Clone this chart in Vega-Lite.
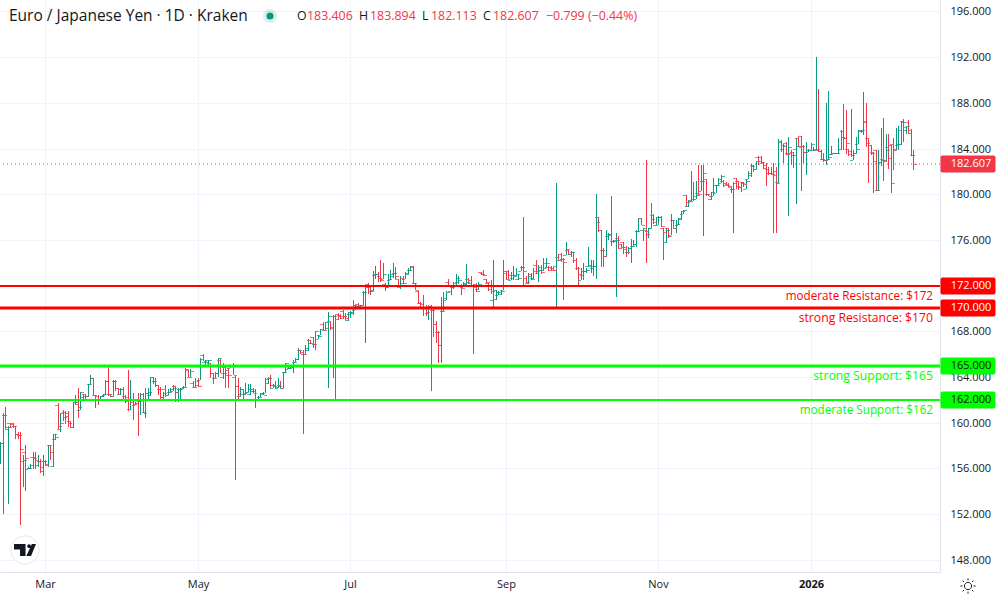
{"$schema":"https://vega.github.io/schema/vega-lite/v6.json","width":940,"height":572,"autosize":{"type":"none"},"padding":{"left":0,"top":0,"right":60,"bottom":28},"background":"#ffffff","config":{"view":{"stroke":null},"font":"Open Sans","text":{"font":"Open Sans"}},
"data":{"values":[
{"d":"2025-02-11","o":158.2,"h":158.3,"l":156.4,"c":158.2},{"d":"2025-02-12","o":158.2,"h":160.8,"l":152.0,"c":160.7},{"d":"2025-02-13","o":160.7,"h":161.4,"l":159.4,"c":159.6},{"d":"2025-02-14","o":159.4,"h":159.7,"l":152.9,"c":159.6},{"d":"2025-02-15","o":160.0,"h":160.0,"l":159.5,"c":159.9},{"d":"2025-02-16","o":160.0,"h":160.0,"l":159.5,"c":159.7},{"d":"2025-02-17","o":159.7,"h":159.7,"l":158.6,"c":159.0},{"d":"2025-02-18","o":159.0,"h":159.2,"l":158.6,"c":158.9},{"d":"2025-02-19","o":158.9,"h":159.2,"l":151.0,"c":157.7},{"d":"2025-02-20","o":156.6,"h":157.2,"l":154.4,"c":156.7},{"d":"2025-02-21","o":157.4,"h":158.0,"l":154.0,"c":156.9},{"d":"2025-02-22","o":155.9,"h":156.1,"l":155.9,"c":156.0},{"d":"2025-02-23","o":156.0,"h":156.4,"l":155.9,"c":156.3},{"d":"2025-02-24","o":157.0,"h":157.4,"l":155.9,"c":156.9},{"d":"2025-02-25","o":157.0,"h":157.4,"l":155.9,"c":156.7},{"d":"2025-02-26","o":156.3,"h":157.2,"l":156.1,"c":156.6},{"d":"2025-02-27","o":156.6,"h":156.8,"l":155.6,"c":156.1},{"d":"2025-02-28","o":155.8,"h":157.2,"l":155.3,"c":156.6},
{"d":"2025-03-01","o":156.6,"h":156.7,"l":156.3,"c":156.4},{"d":"2025-03-02","o":156.3,"h":158.0,"l":156.1,"c":158.0},{"d":"2025-03-03","o":158.0,"h":158.0,"l":156.7,"c":157.4},{"d":"2025-03-04","o":156.2,"h":159.0,"l":156.1,"c":159.0},{"d":"2025-03-05","o":158.6,"h":159.0,"l":158.5,"c":158.7},{"d":"2025-03-06","o":161.5,"h":161.7,"l":159.4,"c":159.7},{"d":"2025-03-07","o":159.4,"h":160.8,"l":159.2,"c":160.0},{"d":"2025-03-08","o":160.8,"h":161.1,"l":160.1,"c":160.5},{"d":"2025-03-09","o":160.9,"h":161.0,"l":159.9,"c":160.6},{"d":"2025-03-10","o":160.8,"h":161.0,"l":159.6,"c":160.0},{"d":"2025-03-11","o":160.1,"h":160.1,"l":159.5,"c":159.6},{"d":"2025-03-12","o":159.6,"h":161.8,"l":159.5,"c":161.8},{"d":"2025-03-13","o":162.0,"h":162.4,"l":161.5,"c":161.6},{"d":"2025-03-14","o":161.8,"h":163.0,"l":160.4,"c":161.4},{"d":"2025-03-15","o":161.1,"h":162.7,"l":161.1,"c":162.7},{"d":"2025-03-16","o":162.2,"h":162.5,"l":162.1,"c":162.3},{"d":"2025-03-17","o":162.5,"h":162.5,"l":162.1,"c":162.3},{"d":"2025-03-18","o":162.3,"h":163.4,"l":162.2,"c":163.4},{"d":"2025-03-19","o":163.4,"h":164.2,"l":163.4,"c":163.9},{"d":"2025-03-20","o":163.9,"h":163.9,"l":162.4,"c":162.4},{"d":"2025-03-21","o":162.4,"h":162.4,"l":161.3,"c":162.0},{"d":"2025-03-22","o":162.3,"h":162.4,"l":161.5,"c":162.0},{"d":"2025-03-23","o":162.0,"h":162.3,"l":161.9,"c":162.3},{"d":"2025-03-24","o":162.3,"h":162.5,"l":162.2,"c":162.5},{"d":"2025-03-25","o":162.4,"h":163.7,"l":162.4,"c":163.6},{"d":"2025-03-26","o":163.6,"h":165.05,"l":162.3,"c":162.5},{"d":"2025-03-27","o":162.5,"h":162.5,"l":162.2,"c":162.3},{"d":"2025-03-28","o":162.3,"h":163.7,"l":162.3,"c":163.6},{"d":"2025-03-29","o":163.6,"h":163.7,"l":162.8,"c":163.0},{"d":"2025-03-30","o":163.0,"h":163.0,"l":162.4,"c":162.9},{"d":"2025-03-31","o":162.5,"h":163.0,"l":162.4,"c":162.9},
{"d":"2025-04-01","o":162.9,"h":163.1,"l":162.0,"c":162.0},{"d":"2025-04-02","o":162.3,"h":162.4,"l":161.7,"c":161.9},{"d":"2025-04-03","o":162.2,"h":164.6,"l":161.05,"c":162.0},{"d":"2025-04-04","o":161.2,"h":163.7,"l":161.1,"c":162.0},{"d":"2025-04-05","o":161.8,"h":162.6,"l":160.2,"c":161.6},{"d":"2025-04-06","o":161.5,"h":161.8,"l":161.5,"c":161.7},{"d":"2025-04-07","o":162.0,"h":162.6,"l":158.8,"c":161.9},{"d":"2025-04-08","o":161.9,"h":162.6,"l":160.7,"c":162.5},{"d":"2025-04-09","o":162.5,"h":162.6,"l":160.8,"c":160.8},{"d":"2025-04-10","o":160.9,"h":163.0,"l":160.4,"c":162.6},{"d":"2025-04-11","o":162.6,"h":163.0,"l":162.1,"c":162.7},{"d":"2025-04-12","o":162.4,"h":164.0,"l":162.3,"c":164.0},{"d":"2025-04-13","o":164.0,"h":164.0,"l":163.4,"c":163.6},{"d":"2025-04-14","o":163.6,"h":163.9,"l":163.1,"c":163.3},{"d":"2025-04-15","o":163.3,"h":163.3,"l":162.4,"c":162.9},{"d":"2025-04-16","o":162.9,"h":163.1,"l":162.0,"c":162.2},{"d":"2025-04-17","o":162.2,"h":162.7,"l":162.1,"c":162.6},{"d":"2025-04-18","o":162.9,"h":163.3,"l":162.2,"c":162.4},{"d":"2025-04-19","o":162.4,"h":162.9,"l":162.4,"c":162.7},{"d":"2025-04-20","o":162.7,"h":163.0,"l":162.7,"c":162.9},{"d":"2025-04-21","o":162.8,"h":163.3,"l":162.8,"c":163.0},{"d":"2025-04-22","o":163.2,"h":163.2,"l":161.8,"c":162.7},{"d":"2025-04-23","o":162.7,"h":163.0,"l":161.8,"c":162.9},{"d":"2025-04-24","o":162.9,"h":163.0,"l":162.0,"c":163.0},{"d":"2025-04-25","o":162.9,"h":163.2,"l":162.9,"c":163.1},{"d":"2025-04-26","o":163.1,"h":164.8,"l":163.1,"c":164.7},{"d":"2025-04-27","o":164.6,"h":164.6,"l":164.0,"c":164.0},{"d":"2025-04-28","o":164.0,"h":164.7,"l":164.0,"c":164.5},{"d":"2025-04-29","o":163.5,"h":163.6,"l":163.1,"c":163.1},{"d":"2025-04-30","o":163.1,"h":163.9,"l":163.1,"c":163.3},
{"d":"2025-05-01","o":163.6,"h":163.9,"l":163.1,"c":163.2},{"d":"2025-05-02","o":163.7,"h":165.7,"l":163.7,"c":165.6},{"d":"2025-05-03","o":165.9,"h":165.98,"l":165.4,"c":165.4},{"d":"2025-05-04","o":165.3,"h":165.5,"l":165.0,"c":165.5},{"d":"2025-05-05","o":165.3,"h":165.5,"l":165.0,"c":165.5},{"d":"2025-05-06","o":165.2,"h":165.2,"l":163.9,"c":164.3},{"d":"2025-05-07","o":164.3,"h":164.3,"l":163.4,"c":163.9},{"d":"2025-05-08","o":163.9,"h":164.4,"l":163.9,"c":164.3},{"d":"2025-05-09","o":164.3,"h":165.7,"l":164.0,"c":165.7},{"d":"2025-05-10","o":165.5,"h":165.6,"l":164.3,"c":164.3},{"d":"2025-05-11","o":164.0,"h":165.2,"l":163.8,"c":164.3},{"d":"2025-05-12","o":164.9,"h":164.9,"l":163.0,"c":164.2},{"d":"2025-05-13","o":164.6,"h":164.8,"l":163.0,"c":164.2},{"d":"2025-05-14","o":164.8,"h":165.0,"l":164.8,"c":165.0},{"d":"2025-05-15","o":165.0,"h":165.2,"l":164.2,"c":164.2},{"d":"2025-05-16","o":164.0,"h":164.1,"l":155.0,"c":163.2},{"d":"2025-05-17","o":163.2,"h":163.9,"l":162.1,"c":162.5},{"d":"2025-05-18","o":162.3,"h":163.1,"l":162.2,"c":162.9},{"d":"2025-05-19","o":162.9,"h":162.9,"l":162.0,"c":162.6},{"d":"2025-05-20","o":162.5,"h":163.5,"l":162.4,"c":162.7},{"d":"2025-05-21","o":162.7,"h":163.4,"l":162.7,"c":162.9},{"d":"2025-05-22","o":162.5,"h":163.4,"l":162.4,"c":162.8},{"d":"2025-05-23","o":162.9,"h":163.0,"l":162.6,"c":162.6},{"d":"2025-05-24","o":162.8,"h":162.9,"l":161.3,"c":162.0},{"d":"2025-05-25","o":162.0,"h":162.3,"l":161.9,"c":162.2},{"d":"2025-05-26","o":162.2,"h":162.6,"l":162.2,"c":162.5},{"d":"2025-05-27","o":162.6,"h":162.7,"l":162.4,"c":162.4},{"d":"2025-05-28","o":162.6,"h":163.9,"l":162.6,"c":163.8},{"d":"2025-05-29","o":163.5,"h":164.0,"l":163.4,"c":163.9},{"d":"2025-05-30","o":163.9,"h":164.2,"l":163.0,"c":163.3},{"d":"2025-05-31","o":163.0,"h":163.4,"l":163.0,"c":163.2},
{"d":"2025-06-01","o":163.3,"h":163.6,"l":162.9,"c":163.1},{"d":"2025-06-02","o":163.0,"h":163.9,"l":163.0,"c":163.2},{"d":"2025-06-03","o":163.3,"h":163.6,"l":163.0,"c":163.0},{"d":"2025-06-04","o":163.0,"h":164.4,"l":163.0,"c":164.4},{"d":"2025-06-05","o":164.4,"h":165.2,"l":164.3,"c":165.2},{"d":"2025-06-06","o":164.7,"h":165.0,"l":164.7,"c":164.8},{"d":"2025-06-07","o":164.8,"h":165.0,"l":164.7,"c":164.9},{"d":"2025-06-08","o":164.9,"h":165.5,"l":164.3,"c":165.3},{"d":"2025-06-09","o":165.3,"h":165.7,"l":165.3,"c":165.6},{"d":"2025-06-10","o":165.6,"h":166.5,"l":165.5,"c":166.4},{"d":"2025-06-11","o":166.4,"h":166.4,"l":166.0,"c":166.0},{"d":"2025-06-12","o":166.2,"h":166.4,"l":159.0,"c":166.0},{"d":"2025-06-13","o":166.0,"h":166.8,"l":166.0,"c":166.5},{"d":"2025-06-14","o":166.4,"h":167.3,"l":166.3,"c":167.0},{"d":"2025-06-15","o":167.2,"h":167.2,"l":166.9,"c":167.0},{"d":"2025-06-16","o":167.5,"h":167.5,"l":166.5,"c":166.9},{"d":"2025-06-17","o":166.9,"h":168.0,"l":166.4,"c":168.0},{"d":"2025-06-18","o":167.3,"h":167.7,"l":167.3,"c":167.6},{"d":"2025-06-19","o":167.7,"h":168.2,"l":167.7,"c":168.2},{"d":"2025-06-20","o":168.6,"h":168.8,"l":168.1,"c":168.1},{"d":"2025-06-21","o":168.1,"h":168.8,"l":168.1,"c":168.8},{"d":"2025-06-22","o":168.3,"h":169.7,"l":163.0,"c":169.3},{"d":"2025-06-23","o":168.9,"h":168.9,"l":168.1,"c":168.3},{"d":"2025-06-24","o":168.4,"h":169.4,"l":163.9,"c":169.3},{"d":"2025-06-25","o":169.3,"h":169.4,"l":162.0,"c":169.1},{"d":"2025-06-26","o":169.5,"h":169.6,"l":169.0,"c":169.3},{"d":"2025-06-27","o":169.4,"h":169.5,"l":169.1,"c":169.2},{"d":"2025-06-28","o":169.8,"h":169.9,"l":169.1,"c":169.3},{"d":"2025-06-29","o":169.3,"h":169.6,"l":169.0,"c":169.2},{"d":"2025-06-30","o":169.0,"h":169.7,"l":168.9,"c":169.7},
{"d":"2025-07-01","o":169.5,"h":169.8,"l":169.2,"c":169.7},{"d":"2025-07-02","o":169.6,"h":170.7,"l":169.4,"c":170.3},{"d":"2025-07-03","o":169.9,"h":170.3,"l":169.9,"c":170.2},{"d":"2025-07-04","o":170.4,"h":170.5,"l":170.1,"c":170.3},{"d":"2025-07-05","o":170.2,"h":170.3,"l":170.1,"c":170.3},{"d":"2025-07-06","o":170.3,"h":171.5,"l":170.3,"c":171.4},{"d":"2025-07-07","o":171.4,"h":172.05,"l":167.0,"c":171.9},{"d":"2025-07-08","o":172.1,"h":172.2,"l":171.3,"c":171.5},{"d":"2025-07-09","o":171.9,"h":171.9,"l":171.2,"c":171.5},{"d":"2025-07-10","o":171.6,"h":173.3,"l":171.5,"c":173.0},{"d":"2025-07-11","o":172.9,"h":173.7,"l":172.6,"c":173.0},{"d":"2025-07-12","o":173.0,"h":173.2,"l":172.3,"c":172.7},{"d":"2025-07-13","o":172.8,"h":174.2,"l":172.3,"c":172.5},{"d":"2025-07-14","o":172.6,"h":174.0,"l":172.6,"c":173.0},{"d":"2025-07-15","o":172.1,"h":172.2,"l":171.5,"c":171.9},{"d":"2025-07-16","o":171.9,"h":173.0,"l":171.9,"c":172.6},{"d":"2025-07-17","o":172.5,"h":173.4,"l":172.5,"c":173.0},{"d":"2025-07-18","o":172.8,"h":174.0,"l":172.7,"c":173.1},{"d":"2025-07-19","o":173.1,"h":173.6,"l":172.6,"c":172.8},{"d":"2025-07-20","o":172.6,"h":172.6,"l":171.9,"c":172.0},{"d":"2025-07-21","o":171.9,"h":172.8,"l":171.7,"c":172.2},{"d":"2025-07-22","o":172.7,"h":172.8,"l":172.1,"c":172.2},{"d":"2025-07-23","o":172.6,"h":173.2,"l":172.6,"c":173.0},{"d":"2025-07-24","o":173.1,"h":173.5,"l":173.0,"c":173.4},{"d":"2025-07-25","o":173.4,"h":173.7,"l":173.3,"c":173.6},{"d":"2025-07-26","o":173.7,"h":173.7,"l":172.1,"c":172.2},{"d":"2025-07-27","o":172.2,"h":172.2,"l":171.6,"c":171.6},{"d":"2025-07-28","o":171.5,"h":171.5,"l":170.4,"c":170.5},{"d":"2025-07-29","o":170.5,"h":170.6,"l":170.0,"c":170.1},{"d":"2025-07-30","o":170.4,"h":171.2,"l":169.3,"c":170.0},{"d":"2025-07-31","o":170.0,"h":170.3,"l":169.3,"c":169.7},
{"d":"2025-08-01","o":169.6,"h":170.3,"l":169.0,"c":170.2},{"d":"2025-08-02","o":170.2,"h":170.3,"l":162.8,"c":169.9},{"d":"2025-08-03","o":169.9,"h":170.0,"l":167.5,"c":168.6},{"d":"2025-08-04","o":168.6,"h":168.9,"l":167.0,"c":167.9},{"d":"2025-08-05","o":167.9,"h":168.0,"l":165.2,"c":166.8},{"d":"2025-08-06","o":166.8,"h":171.0,"l":165.2,"c":169.8},{"d":"2025-08-07","o":169.8,"h":171.4,"l":169.8,"c":170.9},{"d":"2025-08-08","o":170.7,"h":171.5,"l":170.7,"c":171.4},{"d":"2025-08-09","o":172.3,"h":172.6,"l":171.9,"c":172.0},{"d":"2025-08-10","o":171.5,"h":172.0,"l":171.2,"c":171.9},{"d":"2025-08-11","o":171.9,"h":172.3,"l":171.7,"c":172.2},{"d":"2025-08-12","o":172.0,"h":173.0,"l":171.9,"c":172.7},{"d":"2025-08-13","o":172.3,"h":172.8,"l":172.1,"c":172.5},{"d":"2025-08-14","o":172.0,"h":172.1,"l":171.2,"c":171.8},{"d":"2025-08-15","o":171.9,"h":172.3,"l":171.9,"c":172.2},{"d":"2025-08-16","o":172.1,"h":173.9,"l":172.0,"c":172.3},{"d":"2025-08-17","o":172.6,"h":172.7,"l":172.1,"c":172.2},{"d":"2025-08-18","o":172.5,"h":172.8,"l":171.9,"c":172.0},{"d":"2025-08-19","o":172.0,"h":172.1,"l":166.0,"c":171.9},{"d":"2025-08-20","o":172.1,"h":172.2,"l":171.4,"c":171.5},{"d":"2025-08-21","o":171.7,"h":172.3,"l":171.6,"c":172.1},{"d":"2025-08-22","o":173.2,"h":173.2,"l":172.9,"c":173.0},{"d":"2025-08-23","o":173.1,"h":173.4,"l":172.8,"c":172.9},{"d":"2025-08-24","o":172.6,"h":172.6,"l":172.2,"c":172.3},{"d":"2025-08-25","o":172.2,"h":172.2,"l":171.5,"c":171.7},{"d":"2025-08-26","o":172.0,"h":172.5,"l":171.3,"c":171.5},{"d":"2025-08-27","o":170.7,"h":174.2,"l":170.1,"c":171.6},{"d":"2025-08-28","o":170.8,"h":171.6,"l":170.7,"c":171.4},{"d":"2025-08-29","o":171.2,"h":171.5,"l":171.2,"c":171.4},{"d":"2025-08-30","o":171.3,"h":171.6,"l":171.2,"c":171.5},{"d":"2025-08-31","o":171.6,"h":174.2,"l":171.6,"c":173.3},
{"d":"2025-09-01","o":173.1,"h":173.2,"l":172.5,"c":172.6},{"d":"2025-09-02","o":173.3,"h":173.4,"l":172.6,"c":172.9},{"d":"2025-09-03","o":172.5,"h":173.2,"l":172.5,"c":172.9},{"d":"2025-09-04","o":172.7,"h":173.7,"l":172.5,"c":172.8},{"d":"2025-09-05","o":172.9,"h":173.5,"l":172.8,"c":173.0},{"d":"2025-09-06","o":172.6,"h":172.9,"l":172.5,"c":172.7},{"d":"2025-09-07","o":173.3,"h":173.7,"l":173.3,"c":173.6},{"d":"2025-09-08","o":173.6,"h":178.0,"l":172.0,"c":173.3},{"d":"2025-09-09","o":172.7,"h":172.8,"l":172.2,"c":172.3},{"d":"2025-09-10","o":172.2,"h":173.1,"l":172.1,"c":172.8},{"d":"2025-09-11","o":173.0,"h":173.1,"l":172.5,"c":172.6},{"d":"2025-09-12","o":172.7,"h":173.5,"l":172.6,"c":173.3},{"d":"2025-09-13","o":173.8,"h":174.2,"l":173.0,"c":173.3},{"d":"2025-09-14","o":173.1,"h":173.8,"l":172.3,"c":173.4},{"d":"2025-09-15","o":173.6,"h":173.8,"l":173.0,"c":173.2},{"d":"2025-09-16","o":173.4,"h":174.4,"l":173.3,"c":174.0},{"d":"2025-09-17","o":173.5,"h":174.4,"l":173.5,"c":174.0},{"d":"2025-09-18","o":173.6,"h":173.7,"l":173.3,"c":173.4},{"d":"2025-09-19","o":173.6,"h":173.7,"l":173.3,"c":173.4},{"d":"2025-09-20","o":173.5,"h":173.6,"l":173.4,"c":173.4},{"d":"2025-09-21","o":173.7,"h":180.95,"l":170.1,"c":174.2},{"d":"2025-09-22","o":174.5,"h":174.8,"l":174.2,"c":174.2},{"d":"2025-09-23","o":174.8,"h":174.85,"l":174.1,"c":174.3},{"d":"2025-09-24","o":174.3,"h":174.4,"l":170.7,"c":174.1},{"d":"2025-09-25","o":174.7,"h":175.85,"l":174.7,"c":175.2},{"d":"2025-09-26","o":175.1,"h":175.1,"l":174.7,"c":174.8},{"d":"2025-09-27","o":174.8,"h":175.0,"l":174.5,"c":174.9},{"d":"2025-09-28","o":174.9,"h":174.9,"l":173.95,"c":174.2},{"d":"2025-09-29","o":174.2,"h":174.4,"l":173.4,"c":173.5},{"d":"2025-09-30","o":173.5,"h":173.65,"l":172.05,"c":173.0},
{"d":"2025-10-01","o":172.5,"h":173.5,"l":172.5,"c":173.3},{"d":"2025-10-02","o":172.9,"h":173.95,"l":172.5,"c":173.3},{"d":"2025-10-03","o":173.3,"h":173.5,"l":173.1,"c":173.4},{"d":"2025-10-04","o":173.7,"h":175.35,"l":173.7,"c":173.8},{"d":"2025-10-05","o":173.7,"h":174.25,"l":173.1,"c":173.7},{"d":"2025-10-06","o":173.5,"h":174.25,"l":172.8,"c":173.7},{"d":"2025-10-07","o":173.7,"h":180.0,"l":172.6,"c":177.6},{"d":"2025-10-08","o":178.0,"h":178.0,"l":176.7,"c":176.9},{"d":"2025-10-09","o":176.9,"h":176.9,"l":173.6,"c":175.1},{"d":"2025-10-10","o":175.1,"h":175.3,"l":173.6,"c":174.6},{"d":"2025-10-11","o":174.6,"h":176.9,"l":174.5,"c":176.5},{"d":"2025-10-12","o":176.3,"h":176.6,"l":176.0,"c":176.5},{"d":"2025-10-13","o":176.4,"h":179.85,"l":175.5,"c":175.9},{"d":"2025-10-14","o":175.9,"h":176.0,"l":175.7,"c":176.0},{"d":"2025-10-15","o":175.9,"h":176.6,"l":171.0,"c":176.0},{"d":"2025-10-16","o":176.2,"h":176.3,"l":175.2,"c":175.3},{"d":"2025-10-17","o":175.6,"h":175.65,"l":175.2,"c":175.4},{"d":"2025-10-18","o":175.8,"h":175.8,"l":174.8,"c":175.2},{"d":"2025-10-19","o":175.4,"h":175.5,"l":174.5,"c":174.9},{"d":"2025-10-20","o":174.9,"h":175.4,"l":174.8,"c":175.3},{"d":"2025-10-21","o":175.3,"h":176.05,"l":174.0,"c":175.5},{"d":"2025-10-22","o":175.5,"h":176.0,"l":175.5,"c":175.6},{"d":"2025-10-23","o":175.6,"h":176.85,"l":175.4,"c":176.8},{"d":"2025-10-24","o":176.8,"h":177.95,"l":176.7,"c":177.9},{"d":"2025-10-25","o":177.9,"h":177.9,"l":177.3,"c":177.3},{"d":"2025-10-26","o":176.9,"h":177.0,"l":175.9,"c":177.0},{"d":"2025-10-27","o":176.9,"h":183.0,"l":174.0,"c":176.5},{"d":"2025-10-28","o":176.8,"h":177.0,"l":176.2,"c":177.0},{"d":"2025-10-29","o":177.0,"h":179.2,"l":177.0,"c":177.8},{"d":"2025-10-30","o":178.2,"h":178.3,"l":177.4,"c":177.6},{"d":"2025-10-31","o":177.3,"h":178.0,"l":177.3,"c":178.0},
{"d":"2025-11-01","o":177.3,"h":178.05,"l":177.3,"c":178.0},{"d":"2025-11-02","o":178.0,"h":178.05,"l":177.15,"c":177.2},{"d":"2025-11-03","o":177.0,"h":177.0,"l":174.2,"c":176.7},{"d":"2025-11-04","o":175.8,"h":177.0,"l":175.7,"c":176.9},{"d":"2025-11-05","o":177.0,"h":177.0,"l":176.2,"c":176.3},{"d":"2025-11-06","o":176.4,"h":178.3,"l":176.4,"c":177.7},{"d":"2025-11-07","o":177.7,"h":177.75,"l":177.0,"c":177.0},{"d":"2025-11-08","o":177.0,"h":177.75,"l":176.6,"c":177.4},{"d":"2025-11-09","o":177.3,"h":177.9,"l":177.3,"c":177.9},{"d":"2025-11-10","o":177.8,"h":178.5,"l":177.75,"c":178.5},{"d":"2025-11-11","o":178.3,"h":178.6,"l":178.3,"c":178.6},{"d":"2025-11-12","o":179.9,"h":179.9,"l":178.85,"c":179.3},{"d":"2025-11-13","o":179.0,"h":179.5,"l":178.85,"c":179.4},{"d":"2025-11-14","o":179.5,"h":182.0,"l":179.4,"c":179.6},{"d":"2025-11-15","o":179.4,"h":181.1,"l":179.4,"c":179.8},{"d":"2025-11-16","o":179.6,"h":181.2,"l":179.6,"c":179.9},{"d":"2025-11-17","o":180.1,"h":182.6,"l":179.95,"c":180.0},{"d":"2025-11-18","o":180.3,"h":182.6,"l":180.3,"c":181.2},{"d":"2025-11-19","o":181.2,"h":182.6,"l":176.3,"c":181.9},{"d":"2025-11-20","o":181.3,"h":181.3,"l":179.8,"c":180.0},{"d":"2025-11-21","o":180.0,"h":180.0,"l":179.8,"c":179.8},{"d":"2025-11-22","o":179.6,"h":180.2,"l":179.5,"c":180.2},{"d":"2025-11-23","o":179.8,"h":181.4,"l":179.8,"c":180.8},{"d":"2025-11-24","o":180.1,"h":180.8,"l":180.1,"c":180.8},{"d":"2025-11-25","o":180.8,"h":181.4,"l":180.8,"c":181.3},{"d":"2025-11-26","o":181.0,"h":181.7,"l":180.95,"c":181.6},{"d":"2025-11-27","o":181.2,"h":181.25,"l":180.6,"c":180.8},{"d":"2025-11-28","o":181.0,"h":181.1,"l":180.8,"c":180.8},{"d":"2025-11-29","o":180.9,"h":180.95,"l":180.65,"c":180.7},{"d":"2025-11-30","o":180.65,"h":180.65,"l":180.1,"c":180.5},
{"d":"2025-12-01","o":180.5,"h":181.1,"l":176.6,"c":181.0},{"d":"2025-12-02","o":181.4,"h":181.4,"l":180.5,"c":180.7},{"d":"2025-12-03","o":181.2,"h":181.2,"l":180.4,"c":180.6},{"d":"2025-12-04","o":180.6,"h":181.1,"l":180.2,"c":181.0},{"d":"2025-12-05","o":181.1,"h":181.1,"l":180.65,"c":180.9},{"d":"2025-12-06","o":180.5,"h":181.3,"l":180.5,"c":181.2},{"d":"2025-12-07","o":181.3,"h":182.0,"l":181.3,"c":181.9},{"d":"2025-12-08","o":181.7,"h":182.65,"l":181.5,"c":182.5},{"d":"2025-12-09","o":182.6,"h":182.6,"l":181.95,"c":182.2},{"d":"2025-12-10","o":182.2,"h":182.95,"l":182.2,"c":182.9},{"d":"2025-12-11","o":183.3,"h":183.35,"l":182.6,"c":182.9},{"d":"2025-12-12","o":183.3,"h":183.35,"l":182.7,"c":182.8},{"d":"2025-12-13","o":182.7,"h":182.85,"l":182.25,"c":182.3},{"d":"2025-12-14","o":182.6,"h":182.7,"l":180.7,"c":181.9},{"d":"2025-12-15","o":182.2,"h":182.4,"l":181.7,"c":181.9},{"d":"2025-12-16","o":181.9,"h":182.4,"l":181.7,"c":181.8},{"d":"2025-12-17","o":181.9,"h":182.7,"l":176.6,"c":181.7},{"d":"2025-12-18","o":182.0,"h":182.4,"l":176.6,"c":181.0},{"d":"2025-12-19","o":181.1,"h":184.8,"l":181.0,"c":184.6},{"d":"2025-12-20","o":184.7,"h":184.75,"l":183.7,"c":184.3},{"d":"2025-12-21","o":184.0,"h":184.4,"l":182.7,"c":184.2},{"d":"2025-12-22","o":184.5,"h":184.6,"l":183.4,"c":183.5},{"d":"2025-12-23","o":183.6,"h":185.0,"l":178.05,"c":184.1},{"d":"2025-12-24","o":183.6,"h":183.9,"l":182.6,"c":183.4},{"d":"2025-12-25","o":183.7,"h":183.7,"l":182.3,"c":183.4},{"d":"2025-12-26","o":184.0,"h":184.9,"l":179.15,"c":184.2},{"d":"2025-12-27","o":184.9,"h":185.0,"l":184.1,"c":184.1},{"d":"2025-12-28","o":185.1,"h":185.1,"l":180.3,"c":184.2},{"d":"2025-12-29","o":184.2,"h":184.3,"l":182.7,"c":183.7},{"d":"2025-12-30","o":183.7,"h":184.6,"l":181.7,"c":183.9},{"d":"2025-12-31","o":183.7,"h":184.0,"l":183.7,"c":183.9},
{"d":"2026-01-01","o":183.9,"h":184.45,"l":183.85,"c":184.4},{"d":"2026-01-02","o":183.9,"h":184.1,"l":183.8,"c":184.0},{"d":"2026-01-03","o":183.9,"h":192.0,"l":183.85,"c":184.0},{"d":"2026-01-04","o":183.9,"h":189.2,"l":183.7,"c":183.8},{"d":"2026-01-05","o":183.8,"h":183.85,"l":183.0,"c":183.1},{"d":"2026-01-06","o":183.1,"h":183.6,"l":182.85,"c":183.0},{"d":"2026-01-07","o":183.0,"h":187.95,"l":182.6,"c":183.1},{"d":"2026-01-08","o":183.0,"h":189.0,"l":183.0,"c":183.3},{"d":"2026-01-09","o":183.5,"h":184.2,"l":183.4,"c":183.6},{"d":"2026-01-10","o":183.55,"h":183.65,"l":183.5,"c":183.6},{"d":"2026-01-11","o":183.6,"h":183.65,"l":183.5,"c":183.65},{"d":"2026-01-12","o":183.6,"h":184.9,"l":183.55,"c":184.0},{"d":"2026-01-13","o":184.0,"h":185.6,"l":184.0,"c":185.0},{"d":"2026-01-14","o":185.5,"h":187.9,"l":183.9,"c":184.9},{"d":"2026-01-15","o":184.9,"h":187.4,"l":183.5,"c":184.5},{"d":"2026-01-16","o":184.0,"h":184.0,"l":183.35,"c":183.5},{"d":"2026-01-17","o":183.8,"h":187.5,"l":183.3,"c":183.4},{"d":"2026-01-18","o":183.0,"h":183.85,"l":183.0,"c":183.6},{"d":"2026-01-19","o":183.6,"h":185.0,"l":183.6,"c":184.0},{"d":"2026-01-20","o":184.4,"h":185.6,"l":184.4,"c":185.6},{"d":"2026-01-21","o":185.5,"h":185.6,"l":185.4,"c":185.6},{"d":"2026-01-22","o":185.5,"h":188.95,"l":185.2,"c":186.4},{"d":"2026-01-23","o":186.3,"h":187.95,"l":184.1,"c":184.5},{"d":"2026-01-24","o":184.9,"h":184.9,"l":181.0,"c":184.3},{"d":"2026-01-25","o":184.3,"h":184.3,"l":183.4,"c":183.6},{"d":"2026-01-26","o":183.7,"h":183.7,"l":180.1,"c":182.9},{"d":"2026-01-27","o":183.9,"h":183.9,"l":180.3,"c":180.4},{"d":"2026-01-28","o":180.4,"h":183.9,"l":180.3,"c":182.8},{"d":"2026-01-29","o":182.8,"h":185.8,"l":182.5,"c":183.0},{"d":"2026-01-30","o":183.1,"h":186.7,"l":181.2,"c":183.0},{"d":"2026-01-31","o":182.9,"h":185.3,"l":182.85,"c":183.9},
{"d":"2026-02-01","o":184.1,"h":185.3,"l":182.2,"c":183.2},{"d":"2026-02-02","o":184.3,"h":184.3,"l":180.1,"c":181.0},{"d":"2026-02-03","o":184.4,"h":184.9,"l":182.1,"c":183.9},{"d":"2026-02-04","o":184.0,"h":185.8,"l":183.9,"c":184.4},{"d":"2026-02-05","o":184.3,"h":186.0,"l":183.9,"c":185.6},{"d":"2026-02-06","o":184.4,"h":186.45,"l":184.3,"c":186.3},{"d":"2026-02-07","o":186.4,"h":186.55,"l":184.6,"c":185.9},{"d":"2026-02-08","o":185.6,"h":186.0,"l":185.3,"c":186.0},{"d":"2026-02-09","o":186.3,"h":186.5,"l":185.3,"c":185.4},{"d":"2026-02-10","o":185.6,"h":185.7,"l":183.35,"c":183.4},{"d":"2026-02-11","o":183.406,"h":183.894,"l":182.113,"c":182.607}
]},
"layer":[
{"mark":{"type":"rule","strokeWidth":1,"xOffset":0.5},"encoding":{
"x":{"field":"d","type":"temporal","title":null,"scale":{"type":"utc","round":true,"domain":[{"year":2025,"month":2,"date":10,"hours":21,"utc":true},{"year":2026,"month":2,"date":21,"hours":17,"utc":true}]},
"axis":{"values":[{"year":2025,"month":3,"date":1,"utc":true},{"year":2025,"month":5,"date":1,"utc":true},{"year":2025,"month":7,"date":1,"utc":true},{"year":2025,"month":9,"date":1,"utc":true},{"year":2025,"month":11,"date":1,"utc":true},{"year":2026,"month":1,"date":1,"utc":true}],"labelExpr":"utcmonth(datum.value)==0?'2026':utcFormat(datum.value,'%b')","labelFontWeight":{"condition":{"test":"utcmonth(datum.value)==0","value":"bold"},"value":"normal"},"labelFontSize":11,"labelFont":"Open Sans","labelColor":"#131722","labelPadding":6,"ticks":false,"grid":true,"gridColor":"#f0f3fa","gridWidth":1,"domainColor":"#e0e3eb","labelAngle":0}},
"y":{"field":"l","type":"quantitative","title":null,"scale":{"domain":[146.917,197.007],"nice":false,"zero":false,"round":true},
"axis":{"orient":"right","values":[148,152,156,160,164,168,172,176,180,184,188,192,196],"format":".3f","labelFontSize":11,"labelFont":"Open Sans","labelColor":"#131722","labelPadding":10,"ticks":false,"grid":true,"gridColor":"#f0f3fa","gridWidth":1,"domainColor":"#e0e3eb"}},
"y2":{"field":"h"},
"color":{"condition":{"test":"datum.c>=datum.o","value":"#089981"},"value":"#f23645"}}},
{"mark":{"type":"tick","orient":"horizontal","size":3,"thickness":1,"xOffset":-1.5,"yOffset":0.5},"encoding":{"x":{"field":"d","type":"temporal"},"y":{"field":"o","type":"quantitative"},"color":{"condition":{"test":"datum.c>=datum.o","value":"#089981"},"value":"#f23645"}}},
{"mark":{"type":"tick","orient":"horizontal","size":3,"thickness":1,"xOffset":2.5,"yOffset":0.5},"encoding":{"x":{"field":"d","type":"temporal"},"y":{"field":"c","type":"quantitative"},"color":{"condition":{"test":"datum.c>=datum.o","value":"#089981"},"value":"#f23645"}}},
{"data":{"values":[{"price":182.607}]},"mark":{"type":"rule","color":"#f23645","strokeWidth":1,"strokeDash":[1,3]},"encoding":{"y":{"field":"price","type":"quantitative"}}},
{"data":{"name":"levels"},"mark":{"type":"rule"},"encoding":{"y":{"field":"level","type":"quantitative"},"color":{"field":"kind","type":"nominal","scale":{"domain":["Resistance","Support"],"range":["#ff0000","#00ff00"]},"legend":null},"strokeWidth":{"field":"strength","type":"nominal","scale":{"domain":["moderate","strong"],"range":[2,3]},"legend":null}}},
{"data":{"name":"levels"},"mark":{"type":"text","align":"right","baseline":"middle","dy":10,"font":"Open Sans"},"encoding":{"x":{"datum":{"year":2026,"month":2,"date":19,"utc":true},"type":"temporal"},"y":{"field":"level","type":"quantitative"},"text":{"field":"label"},"color":{"field":"kind","type":"nominal"},"size":{"field":"strength","type":"nominal","scale":{"domain":["moderate","strong"],"range":[11.7,12.2]},"legend":null}}},
{"data":{"name":"levels"},"mark":{"type":"rect","width":55,"height":17,"cornerRadius":2},"encoding":{"x":{"datum":{"year":2026,"month":3,"date":5,"utc":true},"type":"temporal"},"y":{"field":"level","type":"quantitative"},"color":{"field":"kind","type":"nominal"}}},
{"data":{"name":"levels"},"mark":{"type":"text","align":"center","baseline":"middle","fontSize":11,"font":"Open Sans"},"encoding":{"x":{"datum":{"year":2026,"month":3,"date":6,"utc":true},"type":"temporal"},"y":{"field":"level","type":"quantitative"},"text":{"field":"level","type":"quantitative","format":".3f"},"color":{"condition":{"test":"datum.kind=='Resistance'","value":"#ffffff"},"value":"#131722"}}},
{"data":{"values":[{"price":182.607}]},"mark":{"type":"rect","width":55,"height":17,"cornerRadius":2,"color":"#f23645"},"encoding":{"x":{"datum":{"year":2026,"month":3,"date":5,"utc":true},"type":"temporal"},"y":{"field":"price","type":"quantitative"}}},
{"data":{"values":[{"price":182.607}]},"mark":{"type":"text","align":"center","baseline":"middle","fontSize":11,"color":"#ffffff","font":"Open Sans"},"encoding":{"x":{"datum":{"year":2026,"month":3,"date":6,"utc":true},"type":"temporal"},"y":{"field":"price","type":"quantitative"},"text":{"field":"price","type":"quantitative","format":".3f"}}},
{"data":{"values":[{"t":"Euro / Japanese Yen · 1D · Kraken","d":"2025-02-14T12:00:00Z"}]},"mark":{"type":"text","align":"left","baseline":"middle","fontSize":15.5,"color":"#131722","font":"Open Sans"},"encoding":{"x":{"field":"d","type":"temporal"},"y":{"datum":195.6},"text":{"field":"t"}}},
{"data":{"values":[{"t":"O","d":"2025-06-09T14:00:00Z"},{"t":"H","d":"2025-07-04T10:00:00Z"},{"t":"L","d":"2025-07-29T14:00:00Z"},{"t":"C","d":"2025-08-23T00:00:00Z"}]},"mark":{"type":"text","align":"left","baseline":"middle","fontSize":12.3,"color":"#131722","font":"Open Sans"},"encoding":{"x":{"field":"d","type":"temporal"},"y":{"datum":195.6},"text":{"field":"t"}}},
{"data":{"values":[{"t":"183.406","d":"2025-06-13T14:00:00Z"},{"t":"183.894","d":"2025-07-08T19:00:00Z"},{"t":"182.113","d":"2025-08-02T05:00:00Z"},{"t":"182.607","d":"2025-08-27T00:00:00Z"},{"t":"−0.799 (−0.44%)","d":"2025-09-17T02:00:00Z"}]},"mark":{"type":"text","align":"left","baseline":"middle","fontSize":12.4,"color":"#f23645","font":"Open Sans"},"encoding":{"x":{"field":"d","type":"temporal"},"y":{"datum":195.6},"text":{"field":"t"}}},
{"data":{"values":[{"d":"2025-05-30"}]},"mark":{"type":"point","filled":true,"size":200,"color":"#089981","opacity":0.15},"encoding":{"x":{"field":"d","type":"temporal"},"y":{"datum":195.6}}},
{"data":{"values":[{"d":"2025-05-30"}]},"mark":{"type":"point","filled":true,"size":50,"color":"#089981","opacity":1},"encoding":{"x":{"field":"d","type":"temporal"},"y":{"datum":195.6}}},
{"data":{"values":[{"d":"2025-02-21"}]},"mark":{"type":"point","filled":true,"size":804,"fill":"#ffffff","stroke":"#e6e8ee","strokeWidth":1,"opacity":1},"encoding":{"x":{"field":"d","type":"temporal"},"y":{"datum":148.85}}},
{"data":{"values":[{"d":"2025-02-21"}]},"mark":{"type":"point","filled":true,"size":484,"color":"#131722","opacity":1,"shape":"M-1,-.55 H.05 V.55 H-.45 V-.05 H-1 Z M.2,-.35 A.17,.17 0 1 0 .54,-.35 A.17,.17 0 1 0 .2,-.35 Z M.55,.55 L1,-.55 H.62 L.12,.55 Z"},"encoding":{"x":{"field":"d","type":"temporal"},"y":{"datum":148.85}}},
{"data":{"values":[{"d":"2026-03-05"}]},"mark":{"type":"point","filled":false,"size":256,"stroke":"#131722","strokeWidth":1,"opacity":1,"shape":"M.45,0 A.45,.45 0 1 1 -.45,0 A.45,.45 0 1 1 .45,0 Z M0,-.95 V-.7 M0,.7 V.95 M-.95,0 H-.7 M.7,0 H.95 M-.67,-.67 L-.5,-.5 M.5,.5 L.67,.67 M-.67,.67 L-.5,.5 M.5,-.5 L.67,-.67"},"encoding":{"x":{"field":"d","type":"temporal"},"y":{"datum":145.69}}}
],
"datasets":{"levels":[{"level":172,"kind":"Resistance","strength":"moderate","label":"moderate Resistance: $172"},{"level":170,"kind":"Resistance","strength":"strong","label":"strong Resistance: $170"},{"level":165,"kind":"Support","strength":"strong","label":"strong Support: $165"},{"level":162,"kind":"Support","strength":"moderate","label":"moderate Support: $162"}]}}
